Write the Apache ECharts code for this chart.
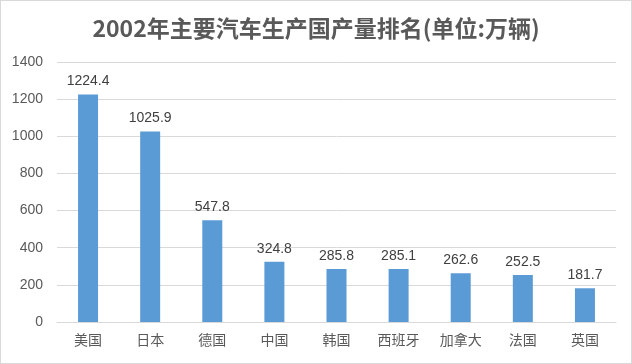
<!DOCTYPE html>
<html><head><meta charset="utf-8">
<script src="https://cdn.jsdelivr.net/npm/echarts@6/dist/echarts.min.js"></script>
<style>html,body{margin:0;padding:0;background:#fff}#c{width:630px;height:362px;border:1px solid #d9d9d9}</style>
</head><body><div id="c"></div>
<script>
const categories = ['美国','日本','德国','中国','韩国','西班牙','加拿大','法国','英国'];
const values = [1224.4,1025.9,547.8,324.8,285.8,285.1,262.6,252.5,181.7];
const yTicks = [0,200,400,600,800,1000,1200,1400];
const chart = echarts.init(document.getElementById('c'));
chart.setOption({
  animation:false,
  title:{text:'2002年主要汽车生产国产量排名(单位:万辆)',left:'center',top:11,
    textStyle:{fontFamily:'Noto Sans CJK SC',fontWeight:'bold',fontSize:23,color:'#595959'}},
  grid:{left:56,right:15,top:61,bottom:41},
  xAxis:{type:'category',data:categories,
    axisLine:{lineStyle:{color:'#d9d9d9'}},axisTick:{show:false},
    axisLabel:{fontFamily:'Noto Sans CJK SC',fontSize:14,color:'#595959',margin:11}},
  yAxis:{type:'value',min:yTicks[0],max:yTicks[yTicks.length-1],interval:200,
    axisLine:{show:false},axisTick:{show:false},
    splitLine:{lineStyle:{color:'#d9d9d9'}},
    axisLabel:{fontFamily:'Liberation Sans',fontSize:14,color:'#595959',margin:14,formatter:v=>String(v)}},
  series:[{type:'bar',data:values,barWidth:20,itemStyle:{color:'#5B9BD5'},
    label:{show:true,position:'top',distance:6,fontFamily:'Liberation Sans',fontSize:14,color:'#404040'}}]
});
</script></body></html>
